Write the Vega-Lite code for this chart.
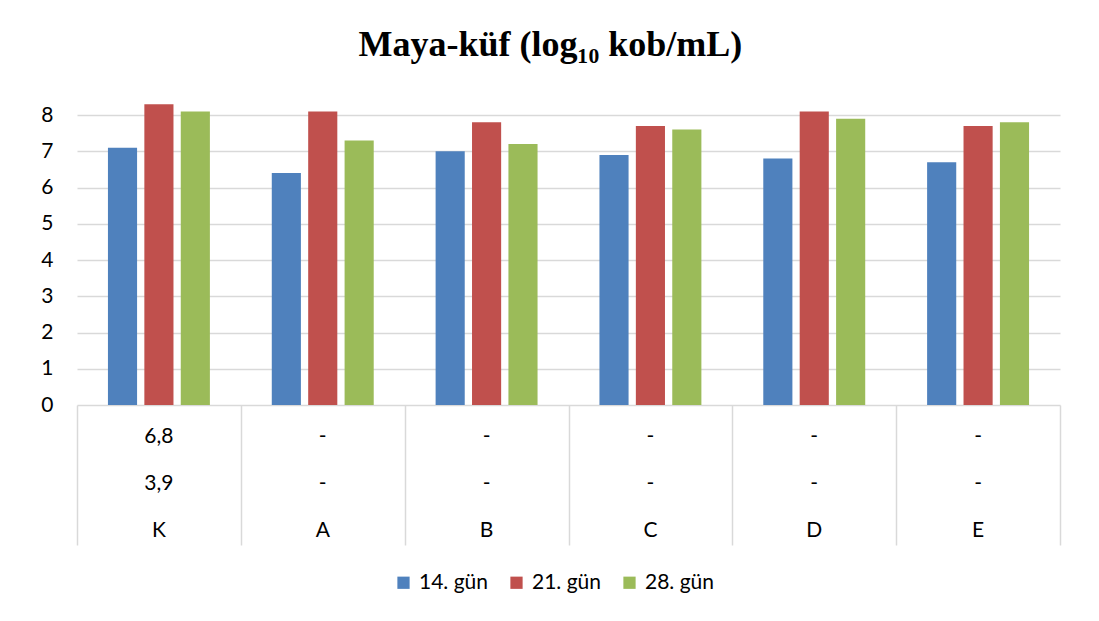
{
  "$schema": "https://vega.github.io/schema/vega-lite/v6.json",
  "background": "white",
  "padding": {"left": 40, "top": 27, "right": 5, "bottom": 5},
  "title": {"text": "Maya-küf (log₁₀ kob/mL)", "font": "Liberation Serif", "fontSize": 36, "fontWeight": "bold", "color": "#000000", "anchor": "middle", "offset": 33},
  "datasets": {
    "bars": [
      {"grup": "K", "gun": "14. gün", "deger": 7.1},
      {"grup": "K", "gun": "21. gün", "deger": 8.3},
      {"grup": "K", "gun": "28. gün", "deger": 8.1},
      {"grup": "A", "gun": "14. gün", "deger": 6.4},
      {"grup": "A", "gun": "21. gün", "deger": 8.1},
      {"grup": "A", "gun": "28. gün", "deger": 7.3},
      {"grup": "B", "gun": "14. gün", "deger": 7.0},
      {"grup": "B", "gun": "21. gün", "deger": 7.8},
      {"grup": "B", "gun": "28. gün", "deger": 7.2},
      {"grup": "C", "gun": "14. gün", "deger": 6.9},
      {"grup": "C", "gun": "21. gün", "deger": 7.7},
      {"grup": "C", "gun": "28. gün", "deger": 7.6},
      {"grup": "D", "gun": "14. gün", "deger": 6.8},
      {"grup": "D", "gun": "21. gün", "deger": 8.1},
      {"grup": "D", "gun": "28. gün", "deger": 7.9},
      {"grup": "E", "gun": "14. gün", "deger": 6.7},
      {"grup": "E", "gun": "21. gün", "deger": 7.7},
      {"grup": "E", "gun": "28. gün", "deger": 7.8}
    ],
    "table": [
      {"grup": "K", "satir": "1", "metin": "6,8"},
      {"grup": "K", "satir": "2", "metin": "3,9"},
      {"grup": "K", "satir": "3", "metin": "K"},
      {"grup": "A", "satir": "1", "metin": "-"},
      {"grup": "A", "satir": "2", "metin": "-"},
      {"grup": "A", "satir": "3", "metin": "A"},
      {"grup": "B", "satir": "1", "metin": "-"},
      {"grup": "B", "satir": "2", "metin": "-"},
      {"grup": "B", "satir": "3", "metin": "B"},
      {"grup": "C", "satir": "1", "metin": "-"},
      {"grup": "C", "satir": "2", "metin": "-"},
      {"grup": "C", "satir": "3", "metin": "C"},
      {"grup": "D", "satir": "1", "metin": "-"},
      {"grup": "D", "satir": "2", "metin": "-"},
      {"grup": "D", "satir": "3", "metin": "D"},
      {"grup": "E", "satir": "1", "metin": "-"},
      {"grup": "E", "satir": "2", "metin": "-"},
      {"grup": "E", "satir": "3", "metin": "E"}
    ]
  },
  "spacing": 0,
  "bounds": "flush",
  "resolve": {"legend": {"color": "shared"}},
  "vconcat": [
    {
      "width": 983,
      "height": 308,
      "data": {"name": "bars"},
      "mark": {"type": "bar"},
      "encoding": {
        "x": {"field": "grup", "type": "nominal", "sort": ["K", "A", "B", "C", "D", "E"], "scale": {"paddingInner": 0, "paddingOuter": 0}, "axis": null},
        "xOffset": {"field": "gun", "type": "nominal", "sort": ["14. gün", "21. gün", "28. gün"], "scale": {"paddingInner": 0.2, "paddingOuter": 0.85}},
        "y": {"field": "deger", "type": "quantitative", "scale": {"domain": [0, 8.5], "nice": false},
          "axis": {"values": [0, 1, 2, 3, 4, 5, 6, 7, 8], "title": null, "domain": false, "ticks": false, "labelPadding": 24, "labelFontSize": 21, "labelFont": "Lato", "labelColor": "#000000", "gridColor": "#d9d9d9", "gridWidth": 1.3}},
        "color": {"field": "gun", "type": "nominal", "sort": ["14. gün", "21. gün", "28. gün"],
          "scale": {"range": ["#4F81BD", "#C0504D", "#9BBB59"]},
          "legend": {"orient": "none", "legendX": 316, "legendY": 475, "direction": "horizontal", "title": null, "symbolType": "square", "symbolSize": 150, "symbolStrokeWidth": 0, "labelFont": "Lato", "labelFontSize": 21, "labelColor": "#000000", "labelOffset": 5, "columnPadding": 17}}
      }
    },
    {
      "width": 983,
      "height": 140,
      "data": {"name": "table"},
      "mark": {"type": "text", "font": "Lato", "fontSize": 21, "color": "#000000", "dy": 9},
      "encoding": {
        "x": {"field": "grup", "type": "nominal", "sort": ["K", "A", "B", "C", "D", "E"], "scale": {"paddingInner": 0, "paddingOuter": 0},
          "axis": {"orient": "bottom", "grid": true, "tickBand": "extent", "labels": false, "ticks": false, "domain": false, "title": null, "gridColor": "#d9d9d9", "gridWidth": 1.5}},
        "y": {"field": "satir", "type": "ordinal", "sort": ["1", "2", "3"], "scale": {"type": "point", "padding": 0.5}, "axis": null},
        "text": {"field": "metin"}
      }
    }
  ],
  "config": {"view": {"stroke": null}}
}
